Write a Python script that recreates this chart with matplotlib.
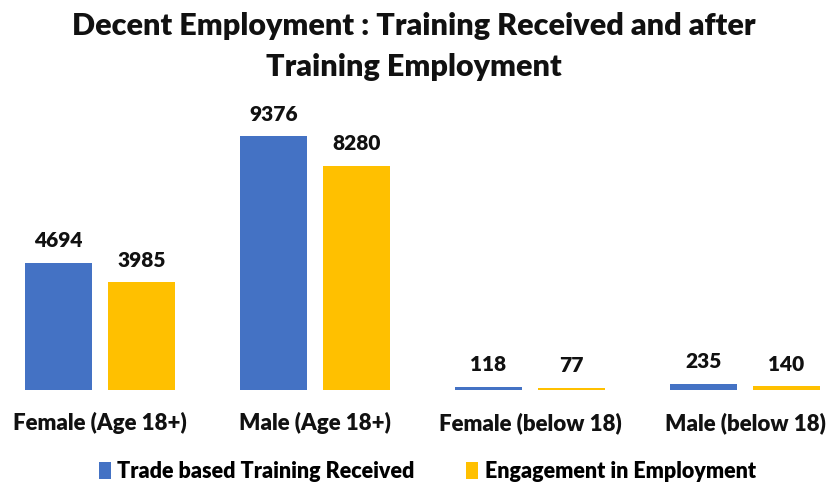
import matplotlib.pyplot as plt
import numpy as np

categories = ['Female (Age 18+)', 'Male (Age 18+)', 'Female (below 18)', 'Male (below 18)']
training = [4694, 9376, 118, 235]
employment = [3985, 8280, 77, 140]
series_names = ['Trade based Training Received', 'Engagement in Employment']
colors = ['#4472C4', '#FFC000']

plt.rcParams['font.family'] = ['Lato', 'DejaVu Sans']
plt.rcParams['font.weight'] = 'bold'

fig = plt.figure(figsize=(8.28, 4.91), dpi=100)
ax = fig.add_axes([0, 0.2057, 1, 0.611])

x = np.arange(len(categories))
w = 0.316
b1 = ax.bar(x - 0.193, training, w, color=colors[0], label=series_names[0])
b2 = ax.bar(x + 0.193, employment, w, color=colors[1], label=series_names[1])

for bars, vals in ((b1, training), (b2, employment)):
    for r, v in zip(bars, vals):
        ax.annotate(str(v), (r.get_x() + r.get_width() / 2, v), xytext=(0, 9),
                    textcoords='offset points', ha='center', va='bottom',
                    fontsize=15, fontweight='heavy', color='#111111')

ax.set_xlim(-0.465, 3.386)
ax.set_ylim(0, 11074)
ax.set_xticks(x)
ax.set_xticklabels(categories, fontsize=16, fontweight='heavy', color='#111111')
ax.tick_params(axis='x', length=0, pad=16)
ax.set_yticks([])
for s in ax.spines.values():
    s.set_visible(False)

fig.suptitle('Decent Employment : Training Received and after\nTraining Employment',
             y=0.975, fontsize=22, fontweight='heavy', color='#111111', linespacing=1.55)

fig.legend(handles=[b1, b2], loc='center', bbox_to_anchor=(0.516, 0.04), ncol=2,
           frameon=False, fontsize=15.5, handlelength=0.55, handleheight=0.85,
           handletextpad=0.3, columnspacing=2.4,
           prop={'size': 15.5, 'weight': 'heavy'})

fig.savefig('out.png', dpi=100)
